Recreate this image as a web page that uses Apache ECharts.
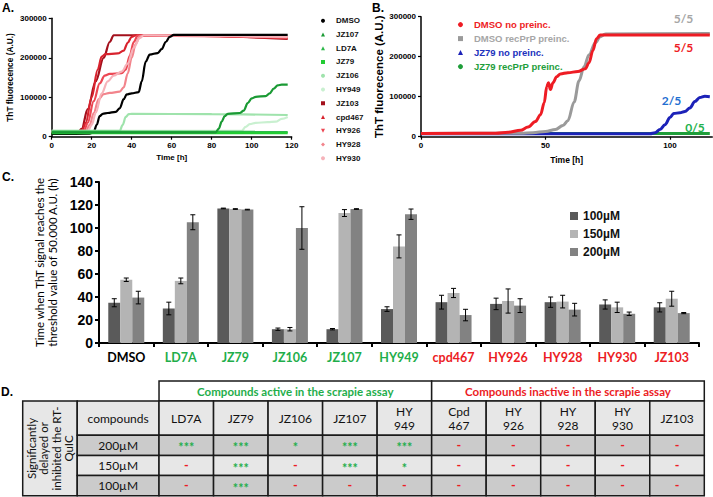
<!DOCTYPE html>
<html><head><meta charset="utf-8">
<script src="https://cdn.jsdelivr.net/npm/echarts@6/dist/echarts.min.js"></script>
<style>html,body{margin:0;padding:0;background:#fff}#c{width:713px;height:497px}</style>
</head><body><div id="c"></div>
<script>
// ================= DATA =================
// Panel A: [time (h), ThT fluorescence (A.U.)]
const A_DMSO   = [[0,7000],[19,7500],[21,12000],[22.5,30000],[24,52000],[25.5,58000],[28,60000],[32,63000],[34,72000],[36,95000],[37.5,107000],[40,110000],[43.5,113000],[45,140000],[47,190000],[49,208000],[53,212000],[55,222000],[57,240000],[59,253000],[61,258000],[118,258000]];
const A_JZ107  = [[0,11000],[82,11000],[83.5,20000],[85,38000],[86.5,52000],[88,58000],[94,60000],[96,66000],[98,85000],[100,97000],[102,101000],[107,103000],[109,110000],[111,122000],[113,130000],[115,132000],[118,132000]];
const A_LD7A   = [[0,13000],[118,12000]];
const A_JZ79   = [[0,9000],[118,9000]];
const A_JZ106  = [[0,15000],[34,15000],[35.5,30000],[37,50000],[38.5,57000],[40,58000],[80,57000],[118,55000]];
const A_HY949  = [[0,15000],[95,15000],[97,25000],[99,32000],[102,35000],[108,37000],[112,38000],[115,45000],[118,50000]];
const A_JZ103  = [[0,11000],[13,11000],[15,20000],[18,70000],[22,140000],[26,200000],[29,240000],[31,257000],[60,257000],[118,248000]];
const A_cpd467 = [[0,12000],[15,13000],[17,35000],[20,100000],[23,170000],[25,203000],[27,209000],[33,211000],[36,218000],[38,238000],[40,253000],[42,257000],[118,250000]];
const A_HY926  = [[0,12000],[16,13000],[18,35000],[21,90000],[24,135000],[26.5,155000],[29,159000],[35,161000],[37,170000],[39,205000],[41,240000],[43,256000],[118,251000]];
const A_HY928  = [[0,12000],[17,13000],[19,30000],[21,60000],[23.5,95000],[26,108000],[29,111000],[34,114000],[36,125000],[38,160000],[40,200000],[42,235000],[44,254000],[46,257000],[118,252000]];
const A_HY930  = [[0,12000],[18,13000],[20,30000],[22,60000],[25,110000],[28,140000],[31,155000],[35,165000],[38,185000],[41,225000],[44,250000],[46,257000],[118,253000]];
const A_names  = ['DMSO','JZ107','LD7A','JZ79','JZ106','HY949','JZ103','cpd467','HY926','HY928','HY930'];
const A_xTicks = [0,20,40,60,80,100,120];
const A_yTicks = [0,100000,200000,300000];

// Panel B
const B_DMSO_no  = [[0,8000],[30,8500],[35,11000],[40,16000],[43,24000],[46,38000],[48,55000],[49.5,85000],[50.5,125000],[51.2,135000],[52,118000],[53,135000],[54.5,150000],[56,157000],[59,160000],[63,163000],[66,170000],[67.5,185000],[69,215000],[70.5,245000],[72,254000],[116,254000]];
const B_DMSO_rec = [[0,8000],[40,8500],[45,10000],[50,13000],[54,18000],[57,28000],[59,40000],[61.5,87000],[63.5,140000],[65.5,175000],[67.5,205000],[70,235000],[72,250000],[74,257000],[116,258000]];
const B_JZ79_no  = [[0,7500],[92,7500],[94,10000],[96,18000],[98,30000],[100,48000],[101.5,58000],[104,60000],[106,63000],[108,72000],[110,88000],[112,98000],[114,101000],[116,100000]];
const B_JZ79_rec = [[0,8000],[116,8000]];
const B_names    = ['DMSO no preinc.','DMSO recPrP preinc.','JZ79 no preinc.','JZ79 recPrP preinc.'];
const B_ratios   = ['5/5','5/5','2/5','0/5'];
const B_xTicks   = [0,50,100];

// Panel C
const C_categories = ['DMSO','LD7A','JZ79','JZ106','JZ107','HY949','cpd467','HY926','HY928','HY930','JZ103'];
const C_100    = [35, 30, 117, 12, 12, 29.5, 35.5, 34, 35.5, 33.5, 31];
const C_100err = [3.5, 5.5, 0.3, 1, 0.6, 2, 6, 5, 4.5, 4, 4];
const C_150    = [55, 54, 116.5, 12, 113, 84, 43.5, 36.5, 36, 31, 38.5];
const C_150err = [1.5, 2.5, 0.3, 1.5, 3, 10, 4, 10.5, 5.5, 4.5, 6.5];
const C_200    = [39.5, 105, 116, 100, 116.5, 112, 24.3, 32.5, 29, 25.4, 26];
const C_200err = [5.5, 6.5, 0.3, 18.5, 0.3, 4.5, 5, 6, 5.5, 1.5, 0.5];
const C_series = ['100µM','150µM','200µM'];
const C_catType = ['control','active','active','active','active','active','inactive','inactive','inactive','inactive','inactive'];

// Panel D
const D_groups    = ['Compounds active in the scrapie assay','Compounds inactive in the scrapie assay'];
const D_groupSize = [5,5];
const D_compounds = ['LD7A','JZ79','JZ106','JZ107','HY\n949','Cpd\n467','HY\n926','HY\n928','HY\n930','JZ103'];
const D_doses     = ['200µM','150µM','100µM'];
const D_200 = ['***','***','*','***','***','-','-','-','-','-'];
const D_150 = ['-','***','-','***','*','-','-','-','-','-'];
const D_100 = ['-','***','-','-','-','-','-','-','-','-'];
const D_rowHead = 'Significantly\ndelayed or\ninhibited the RT-\nQuIC';
const D_colHead = 'compounds';

// ================= STYLE =================
const ARIAL = 'Liberation Sans, Arial, sans-serif';
const CAL = 'Lato, Liberation Sans, sans-serif';
const GREEN = '#1fae4b', RED = '#ec1c24';
const A_colors = ['#000000','#1a9a34','#2db84a','#22cc33','#9fe3ac','#c9f0d0','#a3101c','#d8232e','#ec4753','#f2848c','#f6b3ba'];
const A_icons  = ['circle','triangle','triangle','rect','circle','circle','rect','triangle','path://M0,0L10,0L5,10Z','diamond','circle'];
const A_data   = [A_DMSO,A_JZ107,A_LD7A,A_JZ79,A_JZ106,A_HY949,A_JZ103,A_cpd467,A_HY926,A_HY928,A_HY930];
const A_order  = [6,7,8,9,10,0,5,4,2,3,1]; // drawing order
const B_colors = ['#ee1c24','#9a9a9a','#1c22b8','#1f9e3a'];
const B_text   = ['#ee1c24','#a6a6a6','#2132bd','#1e9e3c'];
const B_icons  = ['circle','rect','triangle','circle'];
const B_data   = [B_DMSO_no,B_DMSO_rec,B_JZ79_no,B_JZ79_rec];
const C_colors = ['#5a5a5a','#b4b4b4','#828282'];

function valueAxis(grid, min, max, interval, ticks, extra) {
  return Object.assign({
    type:'value', gridIndex:grid, min, max, interval,
    axisLine:{show:true, onZero:false, lineStyle:{color:'#000', width:1.5}},
    axisTick:{show:true, length:3, lineStyle:{color:'#000', width:1.2}, customValues:ticks},
    axisLabel:{color:'#000', fontFamily:ARIAL, fontWeight:'bold', fontSize:8, margin:5, customValues:ticks,
      formatter:v=>String(v)},
    splitLine:{show:false}
  }, extra);
}

// ================= TABLE CELLS =================
const colUnits = [1, 1.5].concat(D_compounds.map(()=>1));
const rowUnits = [1, 1.7, 1, 1, 1];
const colEdge = [0]; colUnits.forEach(u=>colEdge.push(colEdge[colEdge.length-1]+u));
const rowEdge = [0]; rowUnits.forEach(u=>rowEdge.push(rowEdge[rowEdge.length-1]+u));
const LIGHT = '#e7e7e7', DARK = '#cbcbcb';
const cells = [];
let gc = 2;
D_groups.forEach((g,i)=>{
  cells.push({c0:gc, c1:gc+D_groupSize[i], r0:0, r1:1, text:g, fill:'#fff', color: i===0?GREEN:RED, bold:true, size:11.5});
  gc += D_groupSize[i];
});
cells.push({c0:0,c1:1,r0:1,r1:5,text:D_rowHead,fill:LIGHT,color:'#111',rotate:true, size:11.5});
cells.push({c0:1,c1:2,r0:1,r1:2,text:D_colHead,fill:LIGHT,color:'#111', size:12});
D_compounds.forEach((n,i)=>cells.push({c0:2+i,c1:3+i,r0:1,r1:2,text:n,fill:LIGHT,color:'#111', size:12}));
const D_rows = [D_200, D_150, D_100];
const rowFill = [DARK, LIGHT, DARK];
D_doses.forEach((d,r)=>{
  cells.push({c0:1,c1:2,r0:2+r,r1:3+r,text:d,fill:rowFill[r],color:'#111', size:12});
  D_rows[r].forEach((v,i)=>cells.push({c0:2+i,c1:3+i,r0:2+r,r1:3+r,text:v,fill:rowFill[r],color: v==='-'?RED:GREEN, star: v!=='-', size:12.5, bold:true}));
});
const cellData = cells.map((c,i)=>[colEdge[c.c0], rowEdge[c.r0], colEdge[c.c1], rowEdge[c.r1], i]);

function renderCell(params, api) {
  const p0 = api.coord([api.value(0), api.value(1)]);
  const p1 = api.coord([api.value(2), api.value(3)]);
  const c = cells[api.value(4)];
  const x = Math.min(p0[0],p1[0]), y = Math.min(p0[1],p1[1]);
  const w = Math.abs(p1[0]-p0[0]), h = Math.abs(p1[1]-p0[1]);
  return {type:'group', children:[
    {type:'rect', shape:{x, y, width:w, height:h}, style:{fill:c.fill, stroke:'#1a1a1a', lineWidth:1.5}},
    {type:'text', x:x+w/2, y:y+h/2 + (c.star?2.5:0), rotation: c.rotate ? Math.PI/2 : 0,
      style:{text:c.text, fill:c.color, fontFamily:CAL, fontSize:c.size, fontWeight: c.bold?'bold':'normal',
             align:'center', verticalAlign:'middle', lineHeight: c.rotate?12.5:14}}
  ]};
}

// ================= ERROR BARS =================
const errData = [];
[[C_100,C_100err],[C_150,C_150err],[C_200,C_200err]].forEach((pair,k)=>{
  pair[0].forEach((v,i)=>errData.push([i, v-pair[1][i], v+pair[1][i], k]));
});
const CAT_GAP = 0.34;
function renderErr(params, api) {
  const cat = api.value(0), k = api.value(3);
  const lo = api.coord([cat, api.value(1)]), hi = api.coord([cat, api.value(2)]);
  const band = api.size([1,0])[0];
  const bw = band*(1-CAT_GAP)/3;
  const x = lo[0] + (k-1)*bw;
  const cap = 2.5, st = {stroke:'#000', lineWidth:1};
  return {type:'group', children:[
    {type:'line', shape:{x1:x,y1:lo[1],x2:x,y2:hi[1]}, style:st},
    {type:'line', shape:{x1:x-cap,y1:lo[1],x2:x+cap,y2:lo[1]}, style:st},
    {type:'line', shape:{x1:x-cap,y1:hi[1],x2:x+cap,y2:hi[1]}, style:st}
  ]};
}

// ================= OPTION =================
const series = [];
A_order.forEach(i=>{
  series.push({type:'line', name:A_names[i], xAxisIndex:0, yAxisIndex:0, data:A_data[i],
    showSymbol:false, symbol:'circle', smooth:0.35, smoothMonotone:'x',
    lineStyle:{color:A_colors[i], width:2.2}, itemStyle:{color:A_colors[i]}, silent:true});
});
[3,2,1,0].forEach(i=>{
  series.push({type:'line', name:B_names[i], xAxisIndex:1, yAxisIndex:1, data:B_data[i],
    showSymbol:false, smooth:0.35, smoothMonotone:'x',
    lineStyle:{color:B_colors[i], width:3}, itemStyle:{color:B_colors[i]}, silent:true});
});
[C_100,C_150,C_200].forEach((d,k)=>{
  series.push({type:'bar', name:C_series[k], xAxisIndex:2, yAxisIndex:2, data:d,
    barGap:'0%', barCategoryGap:(CAT_GAP*100)+'%', itemStyle:{color:C_colors[k]}, silent:true});
});
series.push({type:'custom', xAxisIndex:2, yAxisIndex:2, data:errData, renderItem:renderErr, encode:{x:0,y:[1,2]}, silent:true, z:5});
series.push({type:'custom', xAxisIndex:3, yAxisIndex:3, data:cellData, renderItem:renderCell, encode:{x:[0,2],y:[1,3]}, silent:true, clip:false});

const catColor = t => t==='active'?GREEN:(t==='inactive'?RED:'#000');

const option = {
  animation:false,
  backgroundColor:'#fff',
  grid:[
    {left:51.7, top:18.3, width:240, height:118.4},
    {left:421, top:16.7, width:291.3, height:120},
    {left:99, top:182, width:600, height:161},
    {left:22.7, top:381, width:681.6, height:114.7}
  ],
  xAxis:[
    valueAxis(0, 0, 120, 20, A_xTicks, {name:'Time [h]', nameLocation:'middle', nameGap:17,
      nameTextStyle:{fontFamily:ARIAL, fontWeight:'bold', fontSize:8, color:'#000'}}),
    valueAxis(1, 0, 117, 50, B_xTicks, {name:'Time [h]', nameLocation:'middle', nameGap:19,
      nameTextStyle:{fontFamily:ARIAL, fontWeight:'bold', fontSize:8.5, color:'#000'}}),
    {type:'category', gridIndex:2, data:C_categories,
      axisLine:{lineStyle:{color:'#000', width:2}},
      axisTick:{show:true, length:4, lineStyle:{color:'#000', width:2}},
      axisLabel:{margin:8, fontFamily:CAL, fontWeight:'bold', fontSize:12.5, interval:0,
        color:(v,i)=>catColor(C_catType[i])}},
    {type:'value', gridIndex:3, min:0, max:colEdge[colEdge.length-1], show:false}
  ],
  yAxis:[
    valueAxis(0, 0, 300000, 100000, A_yTicks, {name:'ThT fluorecence (A.U.)', nameLocation:'middle', nameGap:38,
      nameTextStyle:{fontFamily:ARIAL, fontWeight:'bold', fontSize:8.3, color:'#000'}}),
    valueAxis(1, 0, 300000, 100000, A_yTicks, {name:'ThT fluorecence (A.U.)', nameLocation:'middle', nameGap:30,
      nameTextStyle:{fontFamily:ARIAL, fontWeight:'bold', fontSize:11.5, color:'#000'}}),
    {type:'value', gridIndex:2, min:0, max:140, interval:20,
      axisLine:{show:true, lineStyle:{color:'#000', width:2}},
      axisTick:{show:true, length:4, lineStyle:{color:'#000', width:2}},
      axisLabel:{fontFamily:ARIAL, fontWeight:'bold', fontSize:14, color:'#000', margin:6},
      splitLine:{show:false},
      name:'Time when ThT signal reaches the\nthreshold value of 50.000 A.U. (h)', nameLocation:'middle', nameGap:27,
      nameTextStyle:{fontFamily:CAL, fontSize:11.5, color:'#000', lineHeight:13}},
    {type:'value', gridIndex:3, min:0, max:rowEdge[rowEdge.length-1], inverse:true, show:false}
  ],
  legend:[
    {left:316, top:10.7, orient:'vertical', itemWidth:4, itemHeight:4, itemGap:3.76, selectedMode:false,
      data:A_names.map((n,i)=>({name:n, icon:A_icons[i], itemStyle:{color:A_colors[i]}})),
      textStyle:{fontFamily:ARIAL, fontSize:8, fontWeight:'bold', color:'#111', lineHeight:10, padding:[0,0,0,6]}},
    {left:453, top:14.1, orient:'vertical', itemWidth:5, itemHeight:5, itemGap:3, selectedMode:false,
      data:B_names.map((n,i)=>({name:n, icon:B_icons[i], itemStyle:{color:B_colors[i]}, textStyle:{color:B_text[i]}})),
      textStyle:{fontFamily:ARIAL, fontSize:9.5, fontWeight:'bold', lineHeight:11, padding:[0,0,0,6]}},
    {left:565, top:204, orient:'vertical', itemWidth:8, itemHeight:8, itemGap:4, selectedMode:false, icon:'rect',
      data:C_series,
      textStyle:{fontFamily:ARIAL, fontSize:12, fontWeight:'bold', color:'#111', lineHeight:14}}
  ],
  graphic:[
    {type:'text', left:2, top:2, style:{text:'A.', fontFamily:ARIAL, fontWeight:'bold', fontSize:12, fill:'#000'}},
    {type:'text', left:372, top:2, style:{text:'B.', fontFamily:ARIAL, fontWeight:'bold', fontSize:12, fill:'#000'}},
    {type:'text', left:2, top:171, style:{text:'C.', fontFamily:ARIAL, fontWeight:'bold', fontSize:12, fill:'#000'}},
    {type:'text', left:1, top:386, style:{text:'D.', fontFamily:ARIAL, fontWeight:'bold', fontSize:12, fill:'#000'}},
    {type:'text', x:683.5, y:18.5, style:{text:B_ratios[1], fill:'#a6a6a6', fontFamily:CAL, fontWeight:'bold', fontSize:12, align:'center', verticalAlign:'middle'}},
    {type:'text', x:683.5, y:47, style:{text:B_ratios[0], fill:'#ee1c24', fontFamily:CAL, fontWeight:'bold', fontSize:12, align:'center', verticalAlign:'middle'}},
    {type:'text', x:671.5, y:100, style:{text:B_ratios[2], fill:'#1f6fd1', fontFamily:CAL, fontWeight:'bold', fontSize:12, align:'center', verticalAlign:'middle'}},
    {type:'text', x:695, y:127.5, style:{text:B_ratios[3], fill:'#22b14c', fontFamily:CAL, fontWeight:'bold', fontSize:12, align:'center', verticalAlign:'middle'}}
  ],
  series
};

const chart = echarts.init(document.getElementById('c'), null, {renderer:'svg', width:713, height:497});
chart.setOption(option);
</script>
</body></html>
